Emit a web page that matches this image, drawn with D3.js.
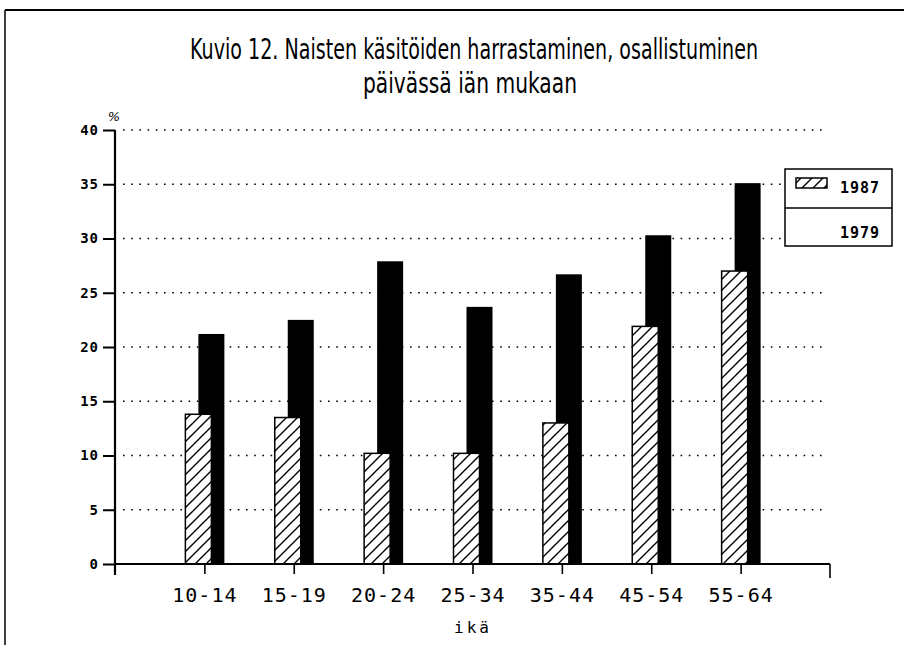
<!DOCTYPE html>
<html>
<head>
<meta charset="utf-8">
<script src="https://cdn.jsdelivr.net/npm/d3@7"></script>
<style>
  body { margin: 0; background: #fff; }
  svg { display: block; }
</style>
</head>
<body>
<div id="chart"></div>
<script>
// data
const ages = ['10-14', '15-19', '20-24', '25-34', '35-44', '45-54', '55-64'];
const v1987 = [13.8, 13.5, 10.2, 10.2, 13.0, 21.9, 27.0];
const v1979 = [21.2, 22.5, 27.9, 23.7, 26.7, 30.3, 35.1];
const yTicks = [0, 5, 10, 15, 20, 25, 30, 35, 40];

var W = 904, H = 645;
var pLeft = 115, pRight = 830, pTop = 130, pBottom = 564;

const svg = d3.select('#chart').append('svg')
    .attr('width', W).attr('height', H);

// hatch pattern for 1987
const defs = svg.append('defs');
defs.append('pattern')
    .attr('id', 'hatch')
    .attr('patternUnits', 'userSpaceOnUse')
    .attr('width', 11).attr('height', 11)
    .call(p => {
        p.append('rect').attr('width', 11).attr('height', 11).attr('fill', '#fff');
        p.append('path')
            .attr('d', 'M-2,13 L13,-2 M-4,4 L4,-4 M7,15 L15,7')
            .attr('stroke', '#000').attr('stroke-width', 1.4);
    });

// frame
svg.append('line').attr('x1', 5).attr('x2', W).attr('y1', 10).attr('y2', 10)
    .attr('stroke', '#000').attr('stroke-width', 2);
svg.append('line').attr('x1', 5).attr('x2', 5).attr('y1', 10).attr('y2', H)
    .attr('stroke', '#000').attr('stroke-width', 1.5);

// title (condensed by textLength)
svg.append('text').attr('x', 474).attr('y', 59)
    .attr('text-anchor', 'middle')
    .attr('textLength', 568).attr('lengthAdjust', 'spacingAndGlyphs')
    .style('font-family', 'DejaVu Sans').style('font-size', '28px')
    .text('Kuvio 12. Naisten käsitöiden harrastaminen, osallistuminen');
svg.append('text').attr('x', 470).attr('y', 93)
    .attr('text-anchor', 'middle')
    .attr('textLength', 214).attr('lengthAdjust', 'spacingAndGlyphs')
    .style('font-family', 'DejaVu Sans').style('font-size', '28px')
    .text('päivässä iän mukaan');

const x = d3.scalePoint()
    .domain(ages)
    .range([pLeft, pRight])
    .padding(1);
const y = d3.scaleLinear()
    .domain([0, 40])
    .range([pBottom, pTop]);

const bw = 26;

// dotted grid lines (cut at legend for 30 and 35)
svg.append('g')
    .selectAll('line')
    .data(yTicks.filter(d => d > 0))
    .join('line')
    .attr('x1', pLeft + 8)
    .attr('x2', d => (d == 30 || d == 35) ? 783 : 828)
    .attr('y1', d => y(d)).attr('y2', d => y(d))
    .attr('stroke', '#000')
    .attr('stroke-width', 1.6)
    .attr('stroke-dasharray', '1.6,6.6');

// bars 1979 (black) then 1987 (hatched) in front
svg.append('g')
    .selectAll('rect')
    .data(v1979)
    .join('rect')
    .attr('x', (d, i) => x(ages[i]) - 6)
    .attr('y', d => y(d))
    .attr('width', bw)
    .attr('height', d => y(0) - y(d))
    .attr('fill', '#000');

svg.append('g')
    .selectAll('rect')
    .data(v1987)
    .join('rect')
    .attr('x', (d, i) => x(ages[i]) - 19)
    .attr('y', d => y(d))
    .attr('width', bw)
    .attr('height', d => y(0) - y(d))
    .attr('fill', 'url(#hatch)')
    .attr('stroke', '#000')
    .attr('stroke-width', 1.5);

// y axis
const yAxis = svg.append('g')
    .attr('transform', `translate(${pLeft},0)`)
    .call(d3.axisLeft(y).tickValues(yTicks).tickSize(12).tickPadding(4));
yAxis.select('.domain').remove();
yAxis.selectAll('.tick line').attr('stroke-width', 2);
yAxis.selectAll('.tick text')
    .style('font-family', 'DejaVu Sans Mono').style('font-weight', 'bold')
    .style('font-size', '14px').style('letter-spacing', '1px');
svg.append('line').attr('x1', pLeft).attr('x2', pLeft).attr('y1', pTop).attr('y2', pBottom + 11)
    .attr('stroke', '#000').attr('stroke-width', 2.2);

// x axis
const xAxis = svg.append('g')
    .attr('transform', `translate(0,${pBottom})`)
    .call(d3.axisBottom(x).tickSize(10).tickPadding(14));
xAxis.select('.domain').remove();
xAxis.selectAll('.tick line').attr('stroke-width', 1.6);
xAxis.selectAll('.tick text')
    .style('font-family', 'DejaVu Sans Mono')
    .style('font-size', '20px').style('letter-spacing', '1px');
svg.append('line').attr('x1', pLeft).attr('x2', pRight).attr('y1', pBottom).attr('y2', pBottom)
    .attr('stroke', '#000').attr('stroke-width', 2);
svg.append('line').attr('x1', pRight).attr('x2', pRight).attr('y1', pBottom).attr('y2', pBottom + 14)
    .attr('stroke', '#000').attr('stroke-width', 1.6);

svg.append('text').attr('x', 473).attr('y', 633)
    .attr('text-anchor', 'middle')
    .style('font-family', 'DejaVu Sans Mono').style('font-size', '16px')
    .style('letter-spacing', '3px')
    .text('ikä');

svg.append('text').attr('x', 114).attr('y', 121)
    .attr('text-anchor', 'middle')
    .style('font-family', 'DejaVu Sans').style('font-style', 'italic')
    .style('font-size', '13px')
    .text('%');

// legend
const lg = svg.append('g');
lg.append('rect').attr('x', 785).attr('y', 169).attr('width', 107).attr('height', 77)
    .attr('fill', '#fff').attr('stroke', '#000').attr('stroke-width', 1.5);
lg.append('line').attr('x1', 785).attr('x2', 892).attr('y1', 208).attr('y2', 208)
    .attr('stroke', '#000').attr('stroke-width', 1.5);
lg.append('rect').attr('x', 796).attr('y', 178).attr('width', 31).attr('height', 10)
    .attr('fill', 'url(#hatch)').attr('stroke', '#000').attr('stroke-width', 1.5);
lg.append('text').attr('x', 880).attr('y', 193).attr('text-anchor', 'end')
    .style('font-family', 'DejaVu Sans Mono').style('font-weight', 'bold')
    .style('font-size', '15px').style('letter-spacing', '1px')
    .text('1987');
lg.append('text').attr('x', 880).attr('y', 238).attr('text-anchor', 'end')
    .style('font-family', 'DejaVu Sans Mono').style('font-weight', 'bold')
    .style('font-size', '15px').style('letter-spacing', '1px')
    .text('1979');
</script>
</body>
</html>
